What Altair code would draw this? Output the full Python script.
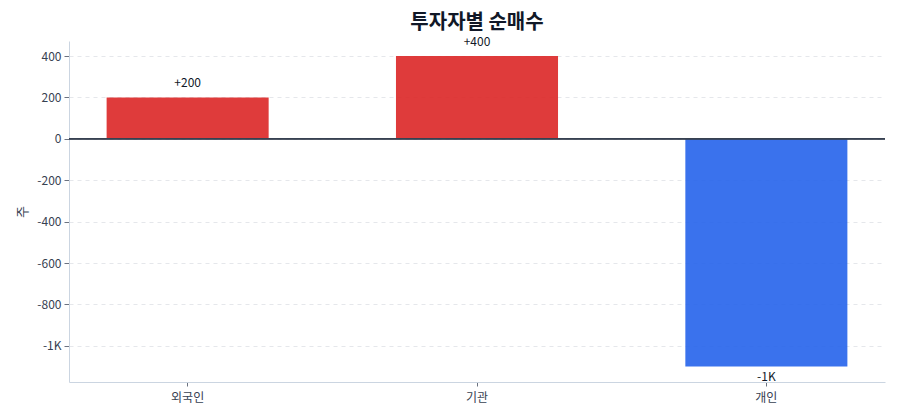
import altair as alt
import pandas as pd

investors = ["외국인", "기관", "개인"]
net_buy = [200, 400, -1100]
labels = ["+200", "+400", "-1K"]
bar_colors = ["#dc2626", "#dc2626", "#2563eb"]

df = pd.DataFrame({"investor": investors, "value": net_buy, "label": labels, "color": bar_colors})

FONT = "Noto Sans CJK KR"

x_enc = alt.X("investor:N", sort=investors, title=None,
              scale=alt.Scale(paddingInner=0.44, paddingOuter=0.13),
              axis=alt.Axis(labelAngle=0, labelFontSize=12, labelColor="#374151", labelFont=FONT,
                            tickColor="#6b7280", tickSize=4, domainColor="#cbd5e1",
                            labelPadding=6, grid=False))
y_scale = alt.Scale(domain=[-1175, 473], nice=False, zero=False)

bars = alt.Chart(df).mark_bar(opacity=0.9).encode(
    x=x_enc,
    y=alt.Y("value:Q", scale=y_scale, title="주",
            axis=alt.Axis(values=[400, 200, 0, -200, -400, -600, -800, -1000],
                          labelExpr="abs(datum.value) >= 1000 ? (datum.value/1000) + 'K' : '' + datum.value",
                          labelFontSize=12, labelColor="#374151", labelFont=FONT,
                          titleFont=FONT, titleFontSize=13, titleColor="#374151", titleFontWeight="normal",
                          titlePadding=7,
                          tickColor="#6b7280", tickSize=5, domainColor="#cbd5e1",
                          gridColor="#e5e7eb", gridDash=[4, 4], labelPadding=3)),
    color=alt.Color("color:N", scale=None),
)

zero = alt.Chart(df).mark_rule(color="#374151", strokeWidth=1.5).encode(
    y=alt.datum(0, type="quantitative", scale=y_scale)
)

pos_text = alt.Chart(df).transform_filter("datum.value >= 0").mark_text(
    dy=-14, fontSize=12, color="#111827", font=FONT, baseline="middle"
).encode(x=alt.X("investor:N", sort=investors), y=alt.Y("value:Q", scale=y_scale), text="label:N")

neg_text = alt.Chart(df).transform_filter("datum.value < 0").mark_text(
    dy=11, fontSize=12, color="#111827", font=FONT, baseline="middle"
).encode(x=alt.X("investor:N", sort=investors), y=alt.Y("value:Q", scale=y_scale), text="label:N")

chart = alt.layer(bars, zero, pos_text, neg_text).properties(
    width=816, height=341,
    title=alt.TitleParams("투자자별 순매수", fontSize=20, fontWeight="bold", color="#111827",
                          font=FONT, anchor="middle", offset=3),
    autosize=alt.AutoSizeParams(type="none"),
    padding={"left": 61, "top": 33, "right": 7, "bottom": 30},
).configure_view(stroke=None)

chart.save("out.html", embed_options={"renderer": "svg", "actions": False})
